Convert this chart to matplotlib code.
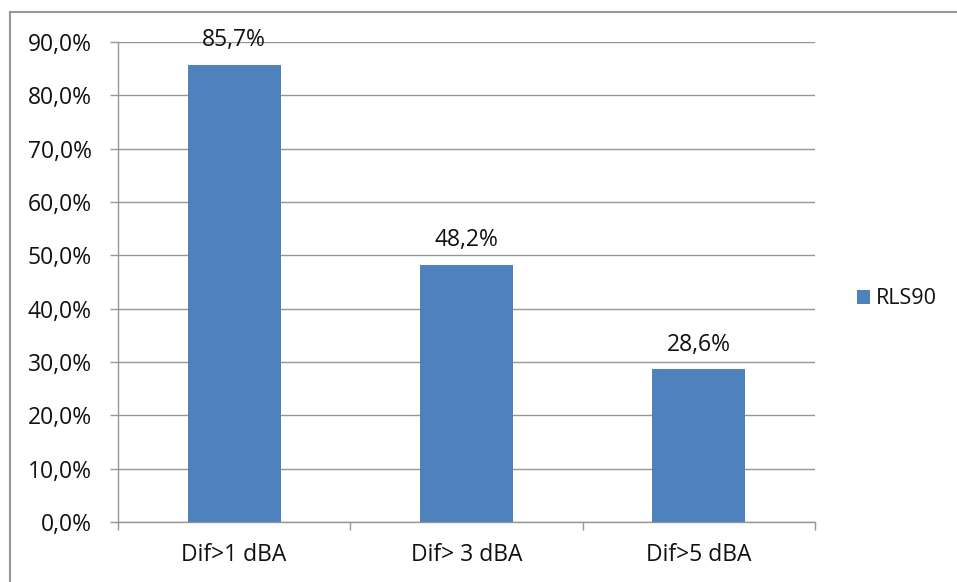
import matplotlib
matplotlib.use("Agg")
from matplotlib import pyplot as plt
from matplotlib.patches import Rectangle
from matplotlib.ticker import FuncFormatter

categories = ["Dif>1 dBA", "Dif> 3 dBA", "Dif>5 dBA"]
values = [0.857, 0.482, 0.286]
value_labels = ["85,7%", "48,2%", "28,6%"]
series_name = "RLS90"
yticks = [0.0, 0.1, 0.2, 0.3, 0.4, 0.5, 0.6, 0.7, 0.8, 0.9]

W, H = 957, 582
bar_color = "#4F81BD"
grid_color = "#969696"
text_color = "#111111"
fs = 16.5

plt.rcParams["font.family"] = ["Open Sans", "DejaVu Sans"]

fig = plt.figure(figsize = (W / 100, H / 100), dpi = 100)
ax = fig.add_axes([118 / W, (H - 522) / H, (815 - 118) / W, (522 - 42) / H])

x = list(range(len(categories)))
ax.bar(x, values, width = 0.4, color = bar_color, label = series_name, zorder = 3)
for xi, v, lab in zip(x, values, value_labels):
	ax.annotate(lab, (xi, v), xytext = (0, 9), textcoords = "offset points",
		ha = "center", va = "bottom", fontsize = fs, color = text_color)

ax.set_xlim(-0.5, 2.5)
ax.set_ylim(0, 0.9)
ax.set_yticks(yticks)
ax.yaxis.set_major_formatter(FuncFormatter(lambda v, p: "{0:.1f}%".format(v * 100).replace(".", ",")))
ax.set_xticks(x)
ax.set_xticklabels(categories)
ax.set_xticks([-0.5, 0.5, 1.5, 2.5], minor = True)
ax.tick_params(axis = "x", which = "major", length = 0, pad = 15, labelsize = fs, labelcolor = text_color)
ax.tick_params(axis = "x", which = "minor", length = 6, width = 1, color = grid_color)
ax.tick_params(axis = "y", length = 6, width = 1, color = grid_color, pad = 13, labelsize = fs, labelcolor = text_color)
ax.grid(axis = "y", color = grid_color, linewidth = 1, zorder = 0)
for s in ["top", "right"]:
	ax.spines[s].set_visible(False)
for s in ["left", "bottom"]:
	ax.spines[s].set_color(grid_color)
	ax.spines[s].set_linewidth(1)

fig.legend(loc = "center left", bbox_to_anchor = (857 / W, 1 - 299 / H), frameon = False,
	borderpad = 0, borderaxespad = 0, handlelength = 0.6, handleheight = 0.6,
	handletextpad = 0.3, fontsize = 15.5, labelcolor = text_color)

# outer chart border, cut off at right and bottom like the screenshot
fig.patches.append(Rectangle((10 / W, -0.1), 1.2, (H - 12) / H + 0.1, transform = fig.transFigure,
	fill = False, edgecolor = grid_color, linewidth = 1.5, clip_on = False))

fig.savefig("out.png", dpi = 100)
